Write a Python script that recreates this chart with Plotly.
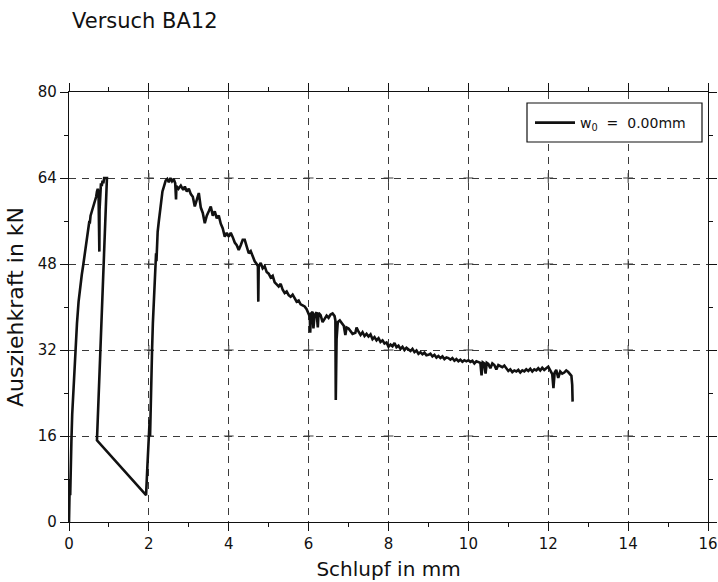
import plotly.graph_objects as go

# --- pull-out test BA12: slip [mm] vs. pull-out force [kN] ---

# first loading branch
load_slip = [0.0, 0.01, 0.02, 0.03, 0.04, 0.05, 0.06, 0.08, 0.11, 0.14, 0.17, 0.20,
             0.24, 0.28, 0.32, 0.36, 0.40, 0.43, 0.46, 0.49, 0.51, 0.52, 0.54, 0.58,
             0.62, 0.65, 0.68, 0.70, 0.72, 0.74, 0.75, 0.76, 0.765, 0.78, 0.80, 0.82,
             0.84, 0.86, 0.88, 0.92, 0.95]
load_force = [0.0, 3.0, 8.0, 5.0, 12.0, 10.0, 15.0, 20.0, 25.0, 30.0, 33.0, 37.0,
              41.0, 44.0, 46.0, 48.0, 50.0, 52.0, 53.0, 55.0, 56.0, 55.5, 57.0, 58.0,
              59.0, 60.0, 60.5, 61.5, 62.0, 61.0, 58.0, 50.3, 58.0, 62.0, 63.0, 62.5,
              63.5, 63.0, 64.0, 64.0, 64.0]

# unloading and cyclic displacement
unload_slip = [0.70, 1.93]
unload_force = [15.2, 5.0]

# reloading, peak and softening branch
reload_slip = [1.96, 1.98, 2.00, 2.02, 2.03, 2.04, 2.06, 2.08, 2.10, 2.13, 2.15, 2.17,
               2.18, 2.19, 2.20, 2.22, 2.25, 2.28, 2.31, 2.34, 2.38, 2.42, 2.46, 2.50,
               2.54, 2.58, 2.62, 2.66, 2.68, 2.69, 2.74, 2.80, 2.86, 2.90, 2.95, 3.00,
               3.05, 3.10, 3.15, 3.20, 3.25, 3.30, 3.35, 3.40, 3.45, 3.50, 3.55, 3.60,
               3.65, 3.70, 3.75, 3.80, 3.85, 3.90, 3.95, 4.00, 4.05, 4.10, 4.15, 4.20,
               4.25, 4.30, 4.35, 4.40, 4.45, 4.50, 4.55, 4.60, 4.65, 4.70, 4.73, 4.74,
               4.75, 4.80, 4.85, 4.90, 4.95, 5.00, 5.05, 5.10, 5.15, 5.20, 5.25, 5.30,
               5.35, 5.40, 5.45, 5.50, 5.55, 5.60, 5.65, 5.70, 5.75, 5.80, 5.85, 5.90,
               5.95, 6.00, 6.03, 6.04, 6.06, 6.10, 6.12, 6.15, 6.20, 6.23, 6.25, 6.30,
               6.35, 6.40, 6.45, 6.50, 6.55, 6.60, 6.65, 6.67, 6.68, 6.70, 6.73, 6.78,
               6.83, 6.88, 6.92, 6.95, 7.00, 7.05, 7.10, 7.17, 7.20, 7.25, 7.30, 7.35,
               7.40, 7.45, 7.50, 7.55, 7.60, 7.65, 7.70, 7.75, 7.80, 7.85, 7.90, 7.95,
               8.00, 8.05, 8.10, 8.15, 8.20, 8.25, 8.30, 8.35, 8.40, 8.45, 8.50, 8.55,
               8.60, 8.65, 8.70, 8.75, 8.80, 8.85, 8.90, 8.95, 9.00, 9.05, 9.10, 9.15,
               9.20, 9.25, 9.30, 9.35, 9.40, 9.45, 9.50, 9.55, 9.60, 9.65, 9.70, 9.75,
               9.80, 9.85, 9.90, 9.95, 10.00, 10.05, 10.10, 10.15, 10.20, 10.25, 10.30,
               10.33, 10.36, 10.40, 10.43, 10.46, 10.50, 10.55, 10.60, 10.65, 10.70,
               10.75, 10.80, 10.85, 10.90, 10.95, 11.00, 11.05, 11.10, 11.15, 11.20,
               11.25, 11.30, 11.35, 11.40, 11.45, 11.50, 11.55, 11.60, 11.65, 11.70,
               11.75, 11.80, 11.85, 11.90, 11.95, 12.00, 12.05, 12.10, 12.13, 12.16,
               12.20, 12.25, 12.30, 12.35, 12.40, 12.45, 12.50, 12.55, 12.58, 12.60,
               12.61]
reload_force = [10.0, 14.0, 17.0, 19.0, 16.0, 21.0, 27.0, 32.0, 37.0, 42.0, 46.0, 48.0,
                50.0, 48.5, 52.0, 54.0, 56.0, 58.0, 60.0, 61.5, 62.5, 63.5, 63.8, 63.2,
                64.0, 63.4, 63.8, 63.0, 60.0, 62.5, 62.0, 62.6, 61.8, 62.4, 61.5, 62.0,
                61.0, 60.5, 58.7, 60.0, 61.2, 58.5, 57.5, 55.6, 57.0, 57.8, 58.7, 57.0,
                57.8, 56.5, 57.0, 55.5, 54.6, 53.1, 53.8, 53.1, 53.8, 53.0, 52.0, 51.5,
                50.6, 51.5, 52.5, 52.5, 51.0, 50.0, 50.4, 49.5, 48.5, 48.0, 47.6, 41.0,
                47.5, 48.2, 47.2, 47.6, 46.5, 46.2, 45.5, 45.8, 44.6, 44.2, 43.8, 44.3,
                43.2, 42.6, 42.9, 42.2, 41.9, 42.3, 41.5, 41.0, 41.2, 40.5, 40.3, 40.1,
                39.6, 38.6, 38.2, 35.2, 38.8, 39.1, 36.0, 38.5, 39.0, 36.2, 38.9, 38.5,
                37.2, 37.8, 38.4, 38.0, 38.6, 38.8, 38.3, 37.5, 22.7, 34.0, 37.2, 37.5,
                37.0, 36.5, 34.8, 36.2, 36.0, 35.5, 35.0, 35.2, 36.2, 35.4, 34.8, 35.3,
                34.6, 35.0, 34.5, 34.9, 34.0, 34.4, 33.8, 34.2, 33.5, 33.8, 33.2, 33.4,
                32.6, 33.0, 32.7, 33.3, 32.5, 32.8, 32.2, 32.6, 32.0, 32.4, 32.0, 31.8,
                32.2, 31.6, 31.9, 31.3, 31.6, 31.2, 31.5, 31.0, 31.1, 31.3, 30.8, 31.1,
                30.6, 30.9, 30.5, 30.8, 30.3, 30.6, 30.5, 30.2, 30.5, 30.0, 30.3, 29.9,
                30.2, 29.8, 30.1, 29.9, 30.1, 29.8, 30.0, 29.5, 29.9, 29.8, 29.6,
                27.3, 29.7, 29.5, 27.6, 29.6, 29.4, 28.6, 29.5, 29.2, 28.4,
                29.2, 29.0, 28.8, 29.1, 28.6, 28.1, 28.4, 27.9, 28.2, 28.0,
                28.3, 27.8, 28.2, 28.0, 28.4, 28.1, 28.5, 28.0, 28.4, 28.2,
                28.6, 28.2, 28.7, 28.3, 28.6, 28.9, 28.2, 27.5, 24.9, 27.8,
                28.3, 26.8, 28.0, 27.6, 27.8, 28.2, 27.9, 27.5, 27.2, 25.5,
                22.4]

slip = load_slip + unload_slip + reload_slip
force = load_force + unload_force + reload_force

x_ticks = [0, 2, 4, 6, 8, 10, 12, 14, 16]
y_ticks = [0, 16, 32, 48, 64, 80]

FONT = "DejaVu Sans"
INK = "#111111"
GRID = "#3a3a3a"

# plot area in pixels
W, H = 718, 582
M_L, M_R, M_T, M_B = 69, 10, 92, 60
PW, PH = W - M_L - M_R, H - M_T - M_B

fig = go.Figure()

# small crosses where the dashed grid lines intersect
gx = [x for x in x_ticks[1:-1] for _ in y_ticks[1:-1]]
gy = [y for _ in x_ticks[1:-1] for y in y_ticks[1:-1]]
fig.add_trace(go.Scatter(
    x=gx, y=gy, mode="markers", showlegend=False, hoverinfo="skip",
    marker=dict(symbol="cross-thin", size=7, line=dict(color=GRID, width=1)),
))

fig.add_trace(go.Scatter(
    x=slip, y=force, mode="lines",
    name="w<sub>0</sub>  =  0.00mm",
    line=dict(color=INK, width=2.6),
))

axis_common = dict(
    showline=True, linecolor=INK, linewidth=1.4, mirror="allticks",
    ticks="outside", ticklen=8, tickcolor=INK, tickwidth=1.2,
    showgrid=True, gridcolor=GRID, gridwidth=1, griddash="7px,6px",
    zeroline=False, automargin=False, ticklabeloverflow="allow",
)

fig.update_xaxes(
    range=[0, 16], tickvals=x_ticks, ticktext=[str(v) for v in x_ticks],
    tickfont=dict(family=FONT, size=15, color=INK),
    minor=dict(dtick=1, ticks="outside", ticklen=4, tickcolor=INK, showgrid=False),
    title=dict(text="Schlupf in mm", font=dict(family=FONT, size=20, color=INK),
               standoff=9),
    **axis_common,
)
fig.update_yaxes(
    range=[0, 80], tickvals=y_ticks, ticktext=[str(v) for v in y_ticks],
    tickfont=dict(family=FONT, size=15, color=INK),
    minor=dict(dtick=8, ticks="outside", ticklen=4, tickcolor=INK, showgrid=False),
    title=dict(text="Ausziehkraft in kN", font=dict(family=FONT, size=22, color=INK),
               standoff=8),
    **axis_common,
)

# legend frame
box_l, box_r, box_t, box_b = 527, 702, 103, 142
fig.add_shape(
    type="rect", xref="paper", yref="paper",
    x0=(box_l - M_L) / PW, x1=(box_r - M_L) / PW,
    y0=(H - M_B - box_b) / PH, y1=(H - M_B - box_t) / PH,
    line=dict(color=INK, width=1.2), fillcolor="white", layer="above",
)

fig.update_layout(
    width=W, height=H,
    margin=dict(l=M_L, r=M_R, t=M_T, b=M_B),
    paper_bgcolor="white", plot_bgcolor="white",
    title=dict(text="Versuch BA12", font=dict(family=FONT, size=21, color=INK),
               x=72 / W, xanchor="left", xref="container",
               y=1 - 21 / H, yanchor="middle", yref="container"),
    legend=dict(x=(530 - M_L) / PW, y=(H - M_B - 123) / PH,
                xanchor="left", yanchor="middle",
                bgcolor="rgba(0,0,0,0)", borderwidth=0,
                font=dict(family=FONT, size=14, color=INK),
                itemwidth=40, tracegroupgap=0),
    hovermode=False,
)

fig.write_html("out.html")
